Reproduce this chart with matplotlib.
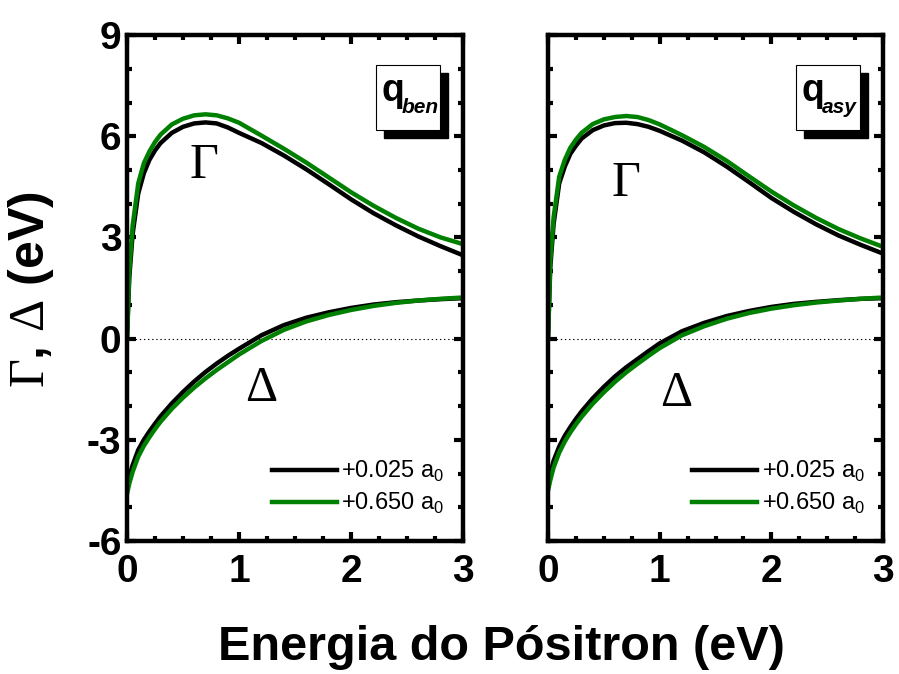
import matplotlib
matplotlib.use('Agg')
import matplotlib.pyplot as plt
from matplotlib.patches import Rectangle
from matplotlib.ticker import MultipleLocator

plt.rcParams['font.family'] = ['Liberation Sans', 'DejaVu Sans']
plt.rcParams['mathtext.fontset'] = 'custom'
plt.rcParams['mathtext.rm'] = 'Liberation Serif'
plt.rcParams['mathtext.sf'] = 'Liberation Sans'
plt.rcParams['axes.unicode_minus'] = False

# energy grid (eV)
E = [0, 0.02, 0.05, 0.1, 0.15, 0.2, 0.25, 0.3, 0.4, 0.5, 0.6, 0.7, 0.8, 0.9,
     1.0, 1.2, 1.4, 1.6, 1.8, 2.0, 2.2, 2.4, 2.6, 2.8, 3.0]

# q_ben panel
gam_ben_025 = [0, 1.8, 3.1, 4.3, 4.9, 5.3, 5.58, 5.8, 6.1, 6.28, 6.38, 6.41, 6.38, 6.26,
               6.1, 5.8, 5.43, 5.02, 4.58, 4.13, 3.72, 3.36, 3.03, 2.74, 2.47]
gam_ben_650 = [0, 2.0, 3.35, 4.6, 5.2, 5.55, 5.83, 6.05, 6.35, 6.52, 6.62, 6.65, 6.62, 6.53,
               6.4, 6.02, 5.63, 5.22, 4.78, 4.34, 3.94, 3.58, 3.26, 3.0, 2.8]
del_ben_025 = [-4.4, -4.1, -3.75, -3.3, -3.0, -2.75, -2.52, -2.3, -1.92, -1.58, -1.27, -0.99, -0.74, -0.51,
               -0.3, 0.1, 0.4, 0.62, 0.78, 0.91, 1.01, 1.08, 1.13, 1.17, 1.2]
del_ben_650 = [-4.6, -4.3, -3.95, -3.5, -3.18, -2.92, -2.68, -2.46, -2.08, -1.75, -1.45, -1.18, -0.93, -0.7,
               -0.47, -0.07, 0.26, 0.51, 0.7, 0.85, 0.97, 1.06, 1.13, 1.18, 1.22]

# q_asy panel
gam_asy_025 = [0, 2.1, 3.4, 4.6, 5.1, 5.48, 5.72, 5.93, 6.18, 6.32, 6.39, 6.4, 6.36, 6.28,
               6.16, 5.87, 5.52, 5.1, 4.64, 4.17, 3.76, 3.39, 3.06, 2.78, 2.52]
gam_asy_650 = [0, 2.3, 3.6, 4.8, 5.3, 5.66, 5.9, 6.1, 6.36, 6.5, 6.57, 6.6, 6.57, 6.48,
               6.35, 6.03, 5.68, 5.27, 4.81, 4.36, 3.95, 3.58, 3.25, 2.97, 2.72]
del_asy_025 = [-4.3, -4.0, -3.62, -3.2, -2.88, -2.62, -2.38, -2.16, -1.77, -1.43, -1.12, -0.85, -0.61, -0.37,
               -0.14, 0.22, 0.47, 0.67, 0.82, 0.94, 1.03, 1.09, 1.14, 1.18, 1.2]
del_asy_650 = [-4.5, -4.2, -3.82, -3.38, -3.05, -2.78, -2.54, -2.32, -1.93, -1.59, -1.28, -1.0, -0.75, -0.51,
               -0.28, 0.1, 0.37, 0.59, 0.76, 0.89, 0.99, 1.07, 1.13, 1.18, 1.22]

labels = ['+0.025 a$_\\mathsf{0}$', '+0.650 a$_\\mathsf{0}$']
green = '#008000'

fig = plt.figure(figsize=(8.99, 6.74), dpi=100)
ax1 = fig.add_axes([0.1413, 0.1973, 0.3738, 0.7507])
ax2 = fig.add_axes([0.6096, 0.1973, 0.3727, 0.7507])

panels = [
    (ax1, gam_ben_025, gam_ben_650, del_ben_025, del_ben_650, 'ben', (0.68, 5.15), (1.2, -1.47)),
    (ax2, gam_asy_025, gam_asy_650, del_asy_025, del_asy_650, 'asy', (0.69, 4.6), (1.15, -1.62)),
]

for ax, g1, g2, d1, d2, sub, gpos, dpos in panels:
    ax.axhline(0, color='k', ls=(0, (1.2, 2.5)), lw=0.8)
    ax.plot(E, g1, color='k', lw=3.2, label=labels[0])
    ax.plot(E, d1, color='k', lw=3.2)
    ax.plot(E, g2, color=green, lw=3.2, label=labels[1])
    ax.plot(E, d2, color=green, lw=3.2)

    ax.set_xlim(0, 3)
    ax.set_ylim(-6, 9)
    ax.xaxis.set_major_locator(MultipleLocator(1))
    ax.xaxis.set_minor_locator(MultipleLocator(0.25))
    ax.yaxis.set_major_locator(MultipleLocator(3))
    ax.yaxis.set_minor_locator(MultipleLocator(1))
    ax.tick_params(which='both', direction='in', top=True, right=True, width=3)
    ax.tick_params(which='major', length=6.5)
    ax.tick_params(which='minor', length=3.5)
    ax.tick_params(axis='x', which='major', pad=9)
    ax.tick_params(axis='y', which='major', pad=4)
    for t in ax.get_xticklabels() + ax.get_yticklabels():
        t.set_fontsize(28)
        t.set_fontweight('bold')
    for s in ax.spines.values():
        s.set_linewidth(3.2)

    ax.text(gpos[0], gpos[1], r'$\Gamma$', fontsize=36, ha='center', va='center')
    ax.text(dpos[0], dpos[1], r'$\Delta$', fontsize=36, ha='center', va='center')

    # framed label with drop shadow
    bx, by, bw, bh = 0.74, 0.812, 0.19, 0.129
    dx, dy = 0.024, -0.016
    ax.add_patch(Rectangle((bx + dx, by + dy), bw, bh, transform=ax.transAxes,
                           facecolor='k', edgecolor='k', zorder=5))
    ax.add_patch(Rectangle((bx, by), bw, bh, transform=ax.transAxes,
                           facecolor='white', edgecolor='k', lw=0.8, zorder=6))
    ax.text(bx + 0.016, by + 0.078, 'q', transform=ax.transAxes, fontsize=27,
            fontweight='bold', ha='left', va='center', zorder=7)
    ax.text(bx + 0.077, by + 0.044, sub, transform=ax.transAxes, fontsize=15,
            fontweight='bold', style='italic', ha='left', va='center', zorder=7)

    ax.legend(loc='lower right', frameon=False, fontsize=17, handlelength=2.75,
              handletextpad=0.2, labelspacing=0.3, borderaxespad=0.0,
              bbox_to_anchor=(0.974, 0.03))

ax2.set_yticklabels([])

fig.text(0.035, 0.57, r'$\Gamma$, $\Delta$ (eV)', rotation=90, fontsize=36,
         fontweight='bold', ha='center', va='center')
fig.text(0.558, 0.04, 'Energia do Pósitron (eV)', fontsize=35, fontweight='bold',
         ha='center', va='center')

fig.savefig('out.png', dpi=100)
